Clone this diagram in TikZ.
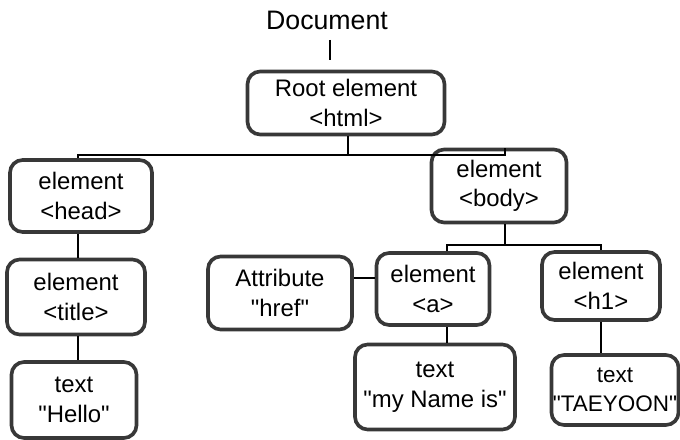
\documentclass[tikz,border=0pt]{standalone}
\usepackage{fontspec}
\setmainfont{Liberation Sans}[Ligatures=TeXOff]
\usetikzlibrary{positioning}
\tikzset{
  every picture/.style={line width=1.2pt},
  dom/.style={draw=black!78,line width=2.6pt,rounded corners=9pt,align=center,inner sep=2pt,
    font=\fontsize{17}{21}\selectfont},
  wire/.style={line width=1.3pt},
}

\begin{document}
\begin{tikzpicture}[x=0.025cm,y=-0.025cm]
\useasboundingbox (0,0) rectangle (680,440);
% top
\node[font=\fontsize{19}{22}\selectfont] (doc) at (327,20) {Document};
\coordinate (docend) at (330,60);
\node[dom,minimum width=197*0.025cm,minimum height=63*0.025cm] (root) at (346,103) {Root element\\<html>};
% first level
\node[dom,minimum width=142*0.025cm,minimum height=72*0.025cm] (head) at (81,196) {element\\<head>};
\node[dom,minimum width=135*0.025cm,minimum height=73*0.025cm] (body) at (499,186) {element\\<body>};
% head branch
\node[dom,minimum width=138*0.025cm,minimum height=75*0.025cm] (title) at (76,297) {element\\<title>};
\node[dom,minimum width=125*0.025cm,minimum height=76*0.025cm] (hello) at (74,400) {text\\"Hello"};
% body branch
\node[dom,minimum width=144*0.025cm,minimum height=73*0.025cm] (attr) at (280,293) {Attribute\\"href"};
\node[dom,minimum width=113*0.025cm,minimum height=72*0.025cm] (anch) at (433,289) {element\\<a>};
\node[dom,minimum width=118*0.025cm,minimum height=68*0.025cm] (hone) at (601,286) {element\\<h1>};
\node[dom,minimum width=160*0.025cm,minimum height=85*0.025cm] (myname) at (435,387) {text\\"my Name is"};
\node[dom,minimum width=124*0.025cm,minimum height=70*0.025cm,inner sep=1pt,
  font=\fontsize{16}{21}\selectfont] (taeyoon) at (615,390) {text\\"TAEYOON"};
% connectors
\draw[wire] (330,40) -- (docend);
\coordinate (busA) at (348,155);
\coordinate (busB) at (505,245);
\coordinate (hcol) at (78,0);
\coordinate (alink) at (0,278);
\draw[wire] (root.south -| busA) -- (busA);
\draw[wire] (head.north -| hcol) |- (busA);
\draw[wire] (busA) -| ([xshift=6*0.025cm]body.north);
\draw[wire] (body.south -| busB) -- (busB);
\draw[wire] ([xshift=14*0.025cm]anch.north) |- (busB) -| (hone.north);
\draw[wire] (head.south -| hcol) -- (title.north -| hcol);
\draw[wire] (title.south -| hcol) -- (hello.north -| hcol);
\draw[wire] (attr.east |- alink) -- (anch.west |- alink);
\draw[wire] ([xshift=14*0.025cm]anch.south) -- ([xshift=12*0.025cm]myname.north);
\draw[wire] (hone.south) -- (hone.south |- taeyoon.north);
\end{tikzpicture}
\end{document}
